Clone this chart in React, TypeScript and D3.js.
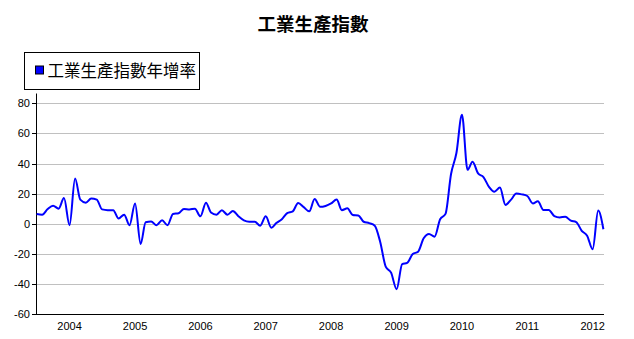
import React from "react";
import * as d3 from "d3";

const TITLE = "工業生產指數";
const SERIES_NAME = "工業生產指數年增率";
const START_YEAR = 2003;
const START_MONTH = 6; // July (0-based)
const values: number[] = [
  // 2003 Jul-Dec
  6.5, 6, 9.8, 12, 10, 17,
  // 2004
  -1, 30, 16, 14, 16.8, 16, 9.5, 9, 9, 3.5, 6, -1,
  // 2005
  13.5, -13.5, 1, 1.5, -1, 2.3, -1, 6.5, 7, 9.8, 9.5, 10,
  // 2006
  4.9, 14, 7.5, 6, 8.9, 6, 8.4, 5, 2.2, 1.3, 1.3, -1.3,
  // 2007
  4.9, -2.7, 0.4, 3, 7, 8.2, 13.8, 11, 8.2, 16.4, 11.2, 11.8,
  // 2008
  13.5, 16, 9, 10.2, 5.8, 5.5, 1.3, 0.4, -1.3, -12, -28.5, -32.5,
  // 2009
  -43.5, -26.8, -26, -20.2, -18.6, -9.7, -6.8, -8.6, 3, 6.5, 33, 47,
  // 2010
  72.4, 35.8, 41.2, 33.4, 31, 24.5, 21.3, 24, 12.5, 15.8, 20, 19.5,
  // 2011
  18.4, 13.5, 14.9, 9.1, 9.1, 5.1, 4.2, 4.6, 2, 1.1, -4.7, -8,
  // 2012
  -17, 8.7, -3.7,
];
const yTicks = [-60, -40, -20, 0, 20, 40, 60, 80];
const xTickYears = [2004, 2005, 2006, 2007, 2008, 2009, 2010, 2011, 2012];

export default function App() {
  const start = new Date(START_YEAR, START_MONTH, 1);
  const data = values.map((v, i) => ({ date: d3.timeMonth.offset(start, i), v }));
  const x = d3
    .scaleTime()
    .domain([data[0].date, data[data.length - 1].date])
    .range([36.6, 603.4]);
  const y = d3.scaleLinear().domain([-60, 80]).range([314, 103.3]);
  const line = d3
    .line<{ date: Date; v: number }>()
    .x((d) => x(d.date))
    .y((d) => y(d.v))
    .curve(d3.curveMonotoneX);
  const left = 36;
  const right = 604;
  const font = "'Liberation Sans', Arial, sans-serif";
  const cjk = "'Noto Sans CJK TC', 'Noto Sans CJK SC', sans-serif";

  return (
    <div style={{ position: "absolute", left: 0, top: 0 }}>
      <svg width={634} height={339} style={{ display: "block", background: "#fff" }}>
        <text x={313} y={31} textAnchor="middle" fontFamily={cjk} fontWeight="bold" fontSize={18.5} fill="#000">
          {TITLE}
        </text>
        <rect x={24.5} y={52.5} width={175} height={37} fill="#fff" stroke="#000" strokeWidth={1} />
        <rect x={35.5} y={66} width={8} height={8} fill="#0000ff" stroke="#000" strokeWidth={1} />
        <text x={47.5} y={77} fontFamily={cjk} fontSize={16.5} fill="#000">
          {SERIES_NAME}
        </text>
        {yTicks.map((t) => (
          <g key={t}>
            {t !== -60 && (
              <line x1={left} x2={right} y1={Math.round(y(t)) + 0.5} y2={Math.round(y(t)) + 0.5} stroke="#c0c0c0" strokeWidth={1} />
            )}
            <line x1={32} x2={left} y1={Math.round(y(t)) + 0.5} y2={Math.round(y(t)) + 0.5} stroke="#000" strokeWidth={1} />
            <text x={30} y={y(t) + 4} textAnchor="end" fontFamily={font} fontSize={11} fill="#000">
              {t}
            </text>
          </g>
        ))}
        <line x1={left + 0.5} x2={left + 0.5} y1={y(86.5)} y2={314} stroke="#000" strokeWidth={1} />
        <line x1={left} x2={right} y1={314.5} y2={314.5} stroke="#000" strokeWidth={1} />
        {xTickYears.map((yr) => (
          <text key={yr} x={x(new Date(yr, 0, 1))} y={330} textAnchor="middle" fontFamily={font} fontSize={11} fill="#000">
            {yr}
          </text>
        ))}
        <path d={line(data) || ""} fill="none" stroke="#0000ff" strokeWidth={2} strokeLinejoin="round" />
      </svg>
    </div>
  );
}
